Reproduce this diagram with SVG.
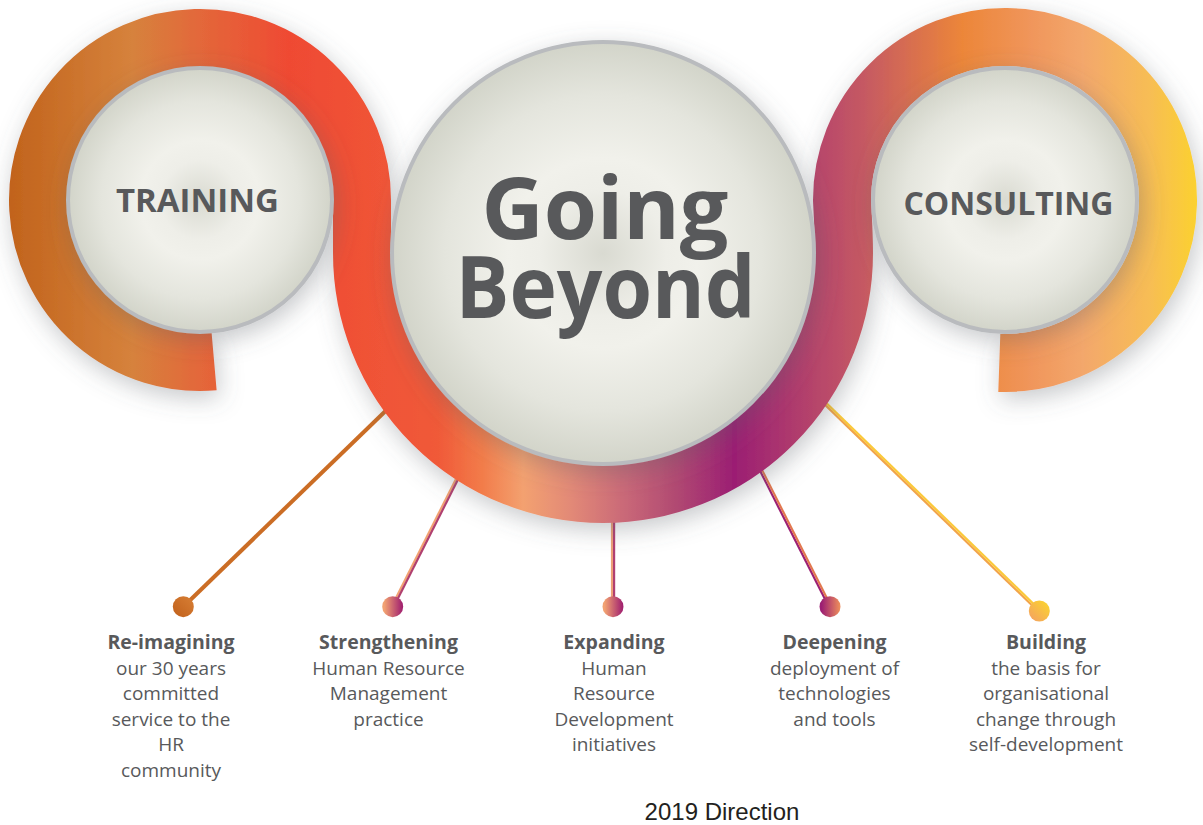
<svg xmlns="http://www.w3.org/2000/svg" width="1203" height="825" viewBox="0 0 1203 825">
  <style>
    .title { font-family: "Open Sans", "Noto Sans", "Liberation Sans", sans-serif; font-weight: 700; fill: #58595b; text-anchor: middle; }
    .head { font-family: "Open Sans", "Noto Sans", "Liberation Sans", sans-serif; font-weight: 700; font-size: 19.5px; fill: #58595b; text-anchor: middle; }
    .body { font-family: "Open Sans", "Noto Sans", "Liberation Sans", sans-serif; font-weight: 400; font-size: 19px; fill: #58595b; text-anchor: middle; }
    .caption { font-family: "Liberation Sans", Arial, sans-serif; font-size: 24px; fill: #231f20; text-anchor: middle; }
    .disc { fill: url(#disc); stroke: #b9bbbe; stroke-width: 4; filter: url(#lift); }
    .wire { fill: none; stroke-width: 2.2; stroke-linecap: butt; }
  </style>
  <defs>
    <!-- soft grey drop shadow used for the band and the discs -->
    <filter id="lift" x="-25%" y="-25%" width="150%" height="150%">
      <feGaussianBlur in="SourceAlpha" stdDeviation="12"/>
      <feOffset dx="3" dy="7" result="blur"/>
      <feFlood flood-color="#5c6168" flood-opacity="0.35"/>
      <feComposite in2="blur" operator="in" result="shadow"/>
      <feMerge>
        <feMergeNode in="shadow"/>
        <feMergeNode in="SourceGraphic"/>
      </feMerge>
    </filter>

    <!-- pearl fill of the three discs -->
    <radialGradient id="disc" cx="0.5" cy="0.5" r="0.5">
      <stop offset="0" stop-color="#d9dad1"/>
      <stop offset="0.3" stop-color="#eeeee8"/>
      <stop offset="0.45" stop-color="#f1f1eb"/>
      <stop offset="0.75" stop-color="#e4e5dd"/>
      <stop offset="1" stop-color="#d2d4c9"/>
    </radialGradient>

    <!-- colour run of the S-shaped band, left to right -->
    <linearGradient id="band" gradientUnits="userSpaceOnUse" x1="0" y1="0" x2="1203" y2="0">
      <stop offset="0.0075" stop-color="#c1631c"/>
      <stop offset="0.11" stop-color="#d6823c"/>
      <stop offset="0.165" stop-color="#e3683a"/>
      <stop offset="0.24" stop-color="#ef4a33"/>
      <stop offset="0.365" stop-color="#f05a39"/>
      <stop offset="0.40" stop-color="#f27b49"/>
      <stop offset="0.435" stop-color="#f3a170"/>
      <stop offset="0.475" stop-color="#e28977"/>
      <stop offset="0.52" stop-color="#c96878"/>
      <stop offset="0.56" stop-color="#b24b72"/>
      <stop offset="0.61" stop-color="#9b1e73"/>
      <stop offset="0.685" stop-color="#b9496a"/>
      <stop offset="0.72" stop-color="#c65a62"/>
      <stop offset="0.76" stop-color="#d9704e"/>
      <stop offset="0.80" stop-color="#ec8639"/>
      <stop offset="0.855" stop-color="#f0955a"/>
      <stop offset="0.90" stop-color="#f3a76c"/>
      <stop offset="0.955" stop-color="#f7bd55"/>
      <stop offset="0.995" stop-color="#fbd12f"/>
    </linearGradient>

    <!-- pin heads -->
    <linearGradient id="dot-a" x1="0" y1="1" x2="1" y2="0">
      <stop offset="0" stop-color="#c0601b"/>
      <stop offset="1" stop-color="#d87f35"/>
    </linearGradient>
    <linearGradient id="dot-b" x1="0" y1="0" x2="1" y2="0">
      <stop offset="0.1" stop-color="#f2a272"/>
      <stop offset="0.95" stop-color="#a2226f"/>
    </linearGradient>
    <linearGradient id="dot-c" x1="0" y1="0" x2="1" y2="0">
      <stop offset="0.1" stop-color="#9c1f73"/>
      <stop offset="0.95" stop-color="#eb8a5c"/>
    </linearGradient>
    <linearGradient id="dot-d" x1="0" y1="1" x2="1" y2="0">
      <stop offset="0.1" stop-color="#f4a45f"/>
      <stop offset="0.9" stop-color="#fbd230"/>
    </linearGradient>
  </defs>

  <rect width="1203" height="825" fill="#ffffff"/>

  <!-- pin wires, tucked under the band -->
  <g id="connectors">
    <line x1="400" y1="397" x2="183.3" y2="606.7" stroke="#cb6d25" stroke-width="4"/>
    <line class="wire" x1="464.1" y1="462.9" x2="391.8" y2="606.2" stroke="#f2a272"/>
    <line class="wire" x1="465.9" y1="463.8" x2="393.6" y2="607.1" stroke="#b0406f"/>
    <line class="wire" x1="612" y1="505" x2="612" y2="607" stroke="#eea077"/>
    <line class="wire" x1="614.1" y1="505" x2="614.1" y2="607" stroke="#b03f72"/>
    <line class="wire" x1="752.3" y1="455.5" x2="829.1" y2="607.2" stroke="#9c2074"/>
    <line class="wire" x1="754.2" y1="454.5" x2="831" y2="606.2" stroke="#e2784f"/>
    <line class="wire" x1="813.5" y1="393.6" x2="1038.6" y2="611.7" stroke="#f2a44a"/>
    <line class="wire" x1="815" y1="392.1" x2="1040.1" y2="610.2" stroke="#fbc93a"/>
  </g>

  <!-- the S-shaped band running round all three discs -->
  <g id="band-ribbon">
    <path d="M 214.1 361.4 A 162 162 0 1 1 362 200 C 362 225 362 238 362 253 A 241 241 0 0 0 603 494 A 241 241 0 0 0 844 253 C 844 235 843 220 842 200 A 163 163 0 1 1 999.3 362.9"
          fill="none" stroke="url(#band)" stroke-width="58" filter="url(#lift)"/>
  </g>

  <g id="node-training">
    <circle class="disc" cx="200" cy="200" r="132"/>
    <text class="title" x="197.5" y="212" font-size="33">TRAINING</text>
  </g>

  <g id="node-going-beyond">
    <circle class="disc" cx="603" cy="253" r="211"/>
    <text class="title" x="605" y="239" font-size="86">Going</text>
    <text class="title" x="605.5" y="318" font-size="86" textLength="300" lengthAdjust="spacingAndGlyphs">Beyond</text>
  </g>

  <g id="node-consulting">
    <circle class="disc" cx="1005" cy="200" r="132"/>
    <text class="title" x="1008.5" y="215" font-size="32">CONSULTING</text>
  </g>

  <g id="pin-reimagining">
    <circle cx="183.3" cy="606.7" r="10.5" fill="url(#dot-a)"/>
    <text class="head" x="171" y="649">Re-imagining</text>
    <text class="body" x="171" y="674.5">our 30 years</text>
    <text class="body" x="171" y="700">committed</text>
    <text class="body" x="171" y="725.5">service to the</text>
    <text class="body" x="171" y="751">HR</text>
    <text class="body" x="171" y="776.5">community</text>
  </g>

  <g id="pin-strengthening">
    <circle cx="392.7" cy="606.7" r="10.5" fill="url(#dot-b)"/>
    <text class="head" x="388.5" y="649">Strengthening</text>
    <text class="body" x="388.5" y="674.5">Human Resource</text>
    <text class="body" x="388.5" y="700">Management</text>
    <text class="body" x="388.5" y="725.5">practice</text>
  </g>

  <g id="pin-expanding">
    <circle cx="613" cy="606.7" r="10.5" fill="url(#dot-b)"/>
    <text class="head" x="614" y="649">Expanding</text>
    <text class="body" x="614" y="674.5">Human</text>
    <text class="body" x="614" y="700">Resource</text>
    <text class="body" x="614" y="725.5">Development</text>
    <text class="body" x="614" y="751">initiatives</text>
  </g>

  <g id="pin-deepening">
    <circle cx="830" cy="606.7" r="10.5" fill="url(#dot-c)"/>
    <text class="head" x="834.5" y="649">Deepening</text>
    <text class="body" x="834.5" y="674.5">deployment of</text>
    <text class="body" x="834.5" y="700">technologies</text>
    <text class="body" x="834.5" y="725.5">and tools</text>
  </g>

  <g id="pin-building">
    <circle cx="1039.3" cy="611" r="10.5" fill="url(#dot-d)"/>
    <text class="head" x="1046" y="649">Building</text>
    <text class="body" x="1046" y="674.5">the basis for</text>
    <text class="body" x="1046" y="700">organisational</text>
    <text class="body" x="1046" y="725.5">change through</text>
    <text class="body" x="1046" y="751">self-development</text>
  </g>

  <text class="caption" x="722" y="820">2019 Direction</text>
</svg>
